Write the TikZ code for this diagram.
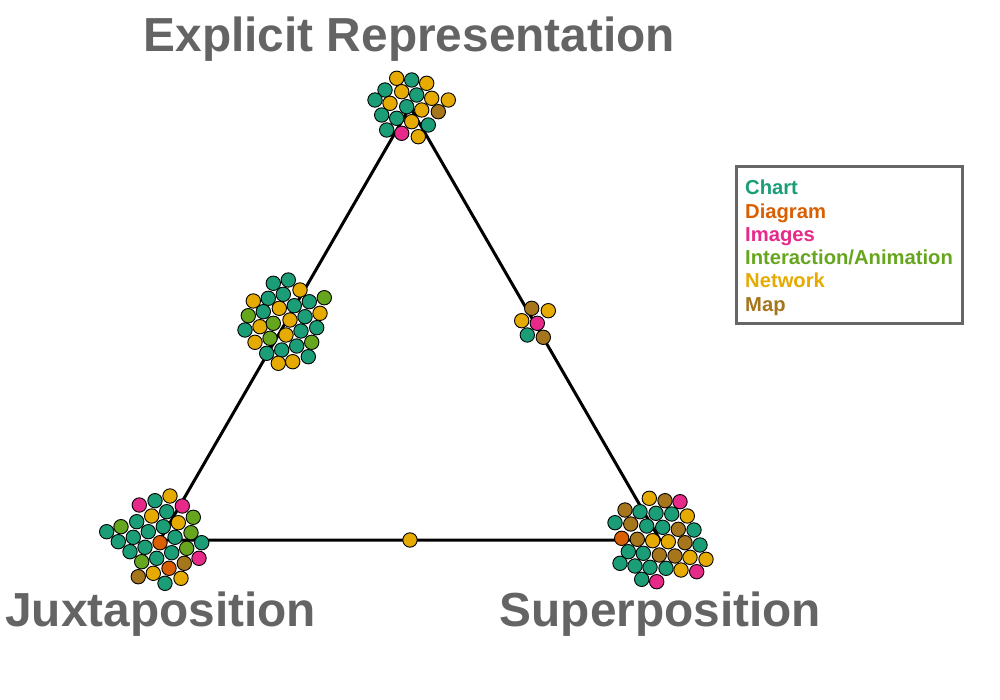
\documentclass[tikz,border=0pt]{standalone}
\usepackage{fontspec}
\setmainfont{Liberation Sans}
\definecolor{chart}{HTML}{1B9E77}
\definecolor{diagram}{HTML}{D95F02}
\definecolor{images}{HTML}{E7298A}
\definecolor{inter}{HTML}{66A61E}
\definecolor{network}{HTML}{E6AB02}
\definecolor{map}{HTML}{A6761D}
\definecolor{titlegray}{HTML}{646464}
\definecolor{boxgray}{HTML}{666666}
\begin{document}
\begin{tikzpicture}[x=1pt,y=-1pt,
  edge/.style={line width=3pt, black, line join=round},
  dot/.style={draw=black, line width=0.9pt},
  title/.style={font=\fontsize{47.8}{50}\selectfont\bfseries, text=titlegray, inner sep=0pt, anchor=base west},
  legtext/.style={font=\fontsize{20.2}{23}\selectfont\bfseries, inner sep=0pt, anchor=base west},
  legbox/.style={draw=boxgray, line width=2.7pt, minimum width=225.5pt, minimum height=156.5pt, anchor=north west, inner sep=0pt}]
\useasboundingbox (0,0) rectangle (1000,700);
\fill[white] (0,0) rectangle (1000,700);

% triangle
\coordinate (A) at (410,107);
\coordinate (B) at (160,540);
\coordinate (C) at (660,540);
\draw[edge] (A) -- (B) -- (C) -- cycle;

% top cluster
\foreach \c/\x/\y in {network/396.7/78.3, chart/411.7/80, network/426.7/83.3,
  chart/385/90, network/401.7/91.7, chart/416.7/95, network/431.7/98.3, network/448.3/100,
  chart/375/100, network/390/103.3, chart/406.7/106.7, network/421.7/110, map/438.3/111.7,
  chart/381.7/115, chart/396.7/118.3, network/411.7/121.7, chart/428.3/125,
  chart/386.7/130, images/401.7/133.3, network/418.3/136.7}
  \filldraw[dot, fill=\c] (\x,\y) circle[radius=7.2];

% left middle cluster
\foreach \c/\x/\y in {chart/273.3/283.3, chart/288.3/280,
  network/253.3/301, chart/268.3/298.3, chart/283.3/294.3, network/300/290,
  inter/248.3/315.7, chart/263.3/311.7, network/279.3/308.3, chart/294.3/305.7, chart/309.3/301.7, inter/324.3/297.7,
  chart/245/330, network/260/326.7, inter/273.3/323.3, network/290/320, chart/305/316.7, network/320/313.3,
  network/255/342.3, inter/270/338.3, network/286/335, chart/301/331, chart/316.7/327.7,
  chart/266.7/353.3, chart/281.7/350, chart/296.7/346, inter/311.7/342.3,
  network/278.3/363.3, network/292.7/361.7, chart/308.3/356.7}
  \filldraw[dot, fill=\c] (\x,\y) circle[radius=7.2];

% right middle cluster
\foreach \c/\x/\y in {map/531.7/308.3, network/548.3/310.7, network/521.7/320.7,
  images/537.3/323.3, chart/527.3/335, map/543.3/337.3}
  \filldraw[dot, fill=\c] (\x,\y) circle[radius=7.2];

% bottom middle
\filldraw[dot, fill=network] (410,540) circle[radius=7.2];

% bottom left cluster
\foreach \c/\x/\y in {network/170/496, images/139.3/505, chart/155/500.7, images/182.3/506,
  chart/136.7/521.7, network/151.7/516, chart/166.7/511.7, network/178.3/522.7, inter/193.3/517.3,
  chart/106.7/531.7, inter/121/526.7, chart/148.3/531.7, chart/163.3/526.7, inter/191/532.7,
  chart/118.3/541.7, chart/133.3/537.3, diagram/160/542.7, chart/175/537.3, chart/201.7/542.7,
  chart/130/551.7, chart/145/547.3, chart/171.7/552.7, inter/186.7/548.3, images/199/558.3,
  inter/141.7/561.7, chart/156.7/558.3, map/184.3/563.3,
  network/153.3/573.3, diagram/169/568.3, map/138.3/576.7, chart/165/583.3, network/181/578.3}
  \filldraw[dot, fill=\c] (\x,\y) circle[radius=7.2];

% bottom right cluster
\foreach \c/\x/\y in {network/649.3/498.3, map/665/500.7, images/680/501.7,
  map/625/510, chart/640/511.7, chart/656/513.3, chart/671.7/514, network/687.3/516,
  chart/615/522.7, map/630.7/524, chart/646.7/526, chart/662.7/527.3, map/678.3/529.3, chart/694/530,
  diagram/621.7/538.3, map/637.3/539.3, network/652.7/540.7, network/668.3/541.7, map/685/542.7, chart/700/545,
  chart/628.3/551.7, chart/643.3/553.3, map/659.3/555, map/675/556, network/690/557.3, network/706/559.3,
  chart/620/563.3, chart/635/566, chart/650/567.3, chart/666/568.3, network/681/570, images/696.7/571.7,
  chart/641.7/579.3, images/656.7/581.7}
  \filldraw[dot, fill=\c] (\x,\y) circle[radius=7.2];

% titles
\node[title] (explicit) at (143.5,51.7) {Explicit Representation};
\node[title] (juxta) at (5.2,626.7) {Juxtaposition};
\node[title] (super) at (499.5,626.7) {Superposition};

% legend
\node[legbox] (legend) at (735.3,165.3) {};
\node[legtext, text=chart] (lchart) at (745,195) {Chart};
\node[legtext, text=diagram] (ldiagram) at (745,218.2) {Diagram};
\node[legtext, text=images] (limages) at (745,241.4) {Images};
\node[legtext, text=inter] (linter) at (745,264.6) {Interaction/Animation};
\node[legtext, text=network] (lnetwork) at (745,287.8) {Network};
\node[legtext, text=map] (lmap) at (745,311) {Map};
\end{tikzpicture}
\end{document}
